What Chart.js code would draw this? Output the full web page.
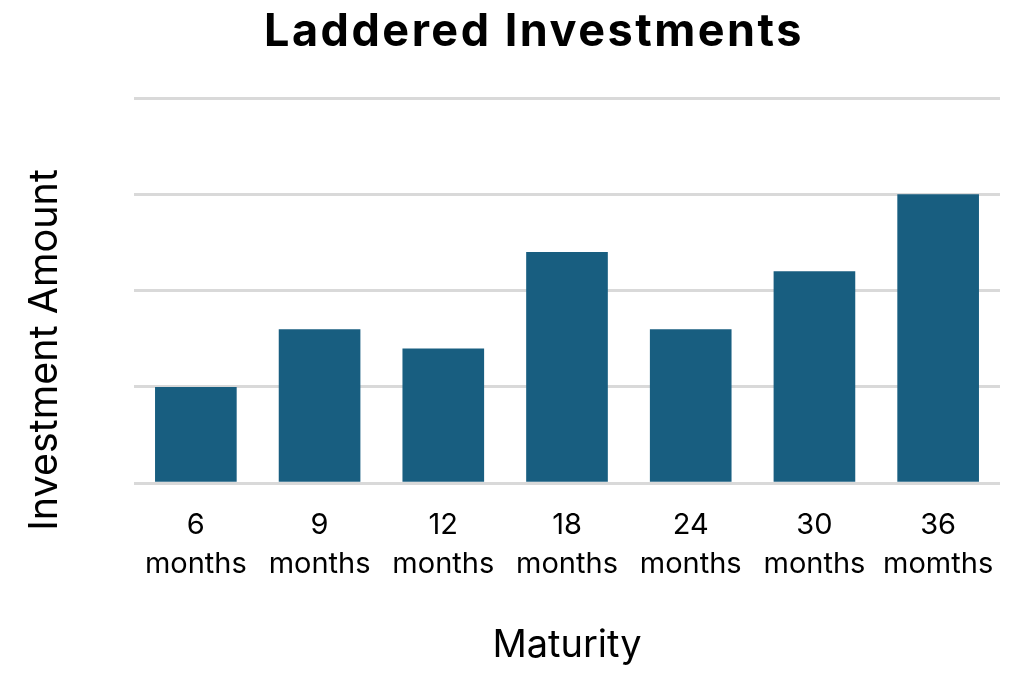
<!DOCTYPE html>
<html>
<head>
<meta charset="utf-8">
<script src="https://cdn.jsdelivr.net/npm/chart.js@4.4.1/dist/chart.umd.min.js"></script>
<style>
  html, body { margin: 0; padding: 0; background: #ffffff; }
  #wrap { width: 1024px; height: 674px; }
</style>
</head>
<body>
<div id="wrap"><canvas id="chartLadder"></canvas></div>
<script>
var maturities = [['6', 'months'], ['9', 'months'], ['12', 'months'], ['18', 'months'], ['24', 'months'], ['30', 'months'], ['36', 'momths']];
var amounts = [1, 1.6, 1.4, 2.4, 1.6, 2.2, 3];
var yTicks = [0, 1, 2, 3, 4];

// chart title and y title drawn by hand: in the original they are not centred on the plot
var titlePlugin = {
    id: 'ladderTitles',
    afterDraw: function (chart) {
        var c = chart.ctx;
        c.save();
        c.fillStyle = '#000000';
        c.textAlign = 'center';
        c.textBaseline = 'middle';
        c.font = 'bold 45px Inter, "DejaVu Sans", sans-serif';
        c.letterSpacing = '2.5px';
        c.fillText('Laddered Investments', 534, 32);
        c.letterSpacing = '0px';
        c.translate(45, 350);
        c.rotate(-Math.PI / 2);
        c.font = '39.5px Inter, "DejaVu Sans", sans-serif';
        c.fillText('Investment Amount', 0, 0);
        c.restore();
    }
};

var ctx = document.getElementById('chartLadder');

var ladderChart = new Chart(ctx, {
    type: 'bar',
    data: {
        labels: maturities,
        datasets: [{
            label: 'Investment Amount',
            data: amounts,
            backgroundColor: '#185e80',
            borderWidth: 0,
            categoryPercentage: 1,
            barPercentage: 0.66
        }]
    },
    options: {
        responsive: true,
        maintainAspectRatio: false,
        animation: false,
        layout: { padding: { top: 98, left: 0, right: 24, bottom: 6 } },
        plugins: {
            legend: { display: false },
            tooltip: { enabled: false }
        },
        scales: {
            x: {
                grid: { display: false },
                border: { display: false },
                ticks: {
                    color: '#000000',
                    padding: 15,
                    maxRotation: 0,
                    font: { family: 'Inter, "DejaVu Sans", sans-serif', size: 29, lineHeight: 1.33 }
                },
                title: {
                    display: true,
                    text: 'Maturity',
                    color: '#000000',
                    padding: { top: 24, bottom: 0 },
                    font: { family: 'Inter, "DejaVu Sans", sans-serif', size: 38 }
                }
            },
            y: {
                min: yTicks[0],
                max: yTicks[yTicks.length - 1],
                afterBuildTicks: function (scale) {
                    scale.ticks = yTicks.map(function (v) { return { value: v }; });
                },
                afterFit: function (scale) { scale.width = 134; },
                grid: { color: '#d9d9d9', lineWidth: 3, drawTicks: false },
                border: { display: false },
                ticks: { display: false }
            }
        }
    },
    plugins: [titlePlugin]
});
</script>
</body>
</html>
